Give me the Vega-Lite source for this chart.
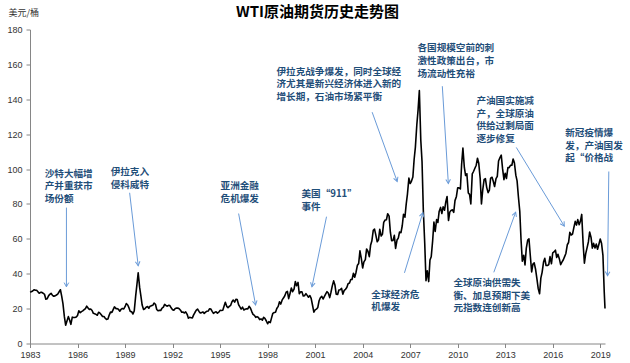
{
  "$schema": "https://vega.github.io/schema/vega-lite/v6.json",
  "width": 575,
  "height": 314,
  "autosize": {"type": "none"},
  "padding": {"left": 30, "top": 29.5, "right": 25, "bottom": 19.5},
  "background": "white",
  "config": {
    "view": {"stroke": null},
    "font": "Liberation Sans",
    "axisX": {"grid": false, "domainColor": "#868686", "tickColor": "#868686", "tickSize": 4, "labelFontSize": 9, "labelColor": "#333333", "labelPadding": 3, "labelFlush": false, "labelOverlap": false},
    "axisY": {"grid": false, "domainColor": "#868686", "tickColor": "#868686", "tickSize": 4, "labelFontSize": 9, "labelColor": "#333333", "labelPadding": 4, "labelOverlap": false, "titleAngle": 0, "titleAlign": "left", "titleBaseline": "middle", "titleX": -22, "titleY": -17, "titleFont": "Noto Sans CJK SC", "titleFontSize": 9, "titleFontWeight": "normal", "titleColor": "#333333"}
  },
  "title": {"text": "WTI原油期货历史走势图", "font": "Noto Sans CJK SC", "fontSize": 15, "fontWeight": "bold", "color": "#000000", "anchor": "middle", "frame": "group", "offset": -11},
  "datasets": {
    "prices": [
      {"t":1983.00,"p":29.5},
      {"t":1983.08,"p":29.7},{"t":1983.17,"p":30.1},{"t":1983.25,"p":30.8},{"t":1983.33,"p":30.6},{"t":1983.42,"p":30.5},{"t":1983.50,"p":29.7},{"t":1983.58,"p":28.8},{"t":1983.67,"p":29.3},{"t":1983.75,"p":29.3},{"t":1983.83,"p":28.8},{"t":1983.92,"p":28.1},{"t":1984.00,"p":25.4},
      {"t":1984.08,"p":25.6},{"t":1984.17,"p":27.3},{"t":1984.25,"p":28.2},{"t":1984.33,"p":28.8},{"t":1984.42,"p":27.6},{"t":1984.50,"p":27.1},{"t":1984.58,"p":27.3},{"t":1984.67,"p":27.8},{"t":1984.75,"p":28.3},{"t":1984.83,"p":29.5},{"t":1984.92,"p":30.8},{"t":1985.00,"p":27.2},
      {"t":1985.08,"p":22.9},{"t":1985.17,"p":15.4},{"t":1985.25,"p":10.5},{"t":1985.33,"p":12.8},{"t":1985.42,"p":15.4},{"t":1985.50,"p":13.5},{"t":1985.58,"p":11.0},{"t":1985.67,"p":15.1},{"t":1985.75,"p":14.9},{"t":1985.83,"p":14.9},{"t":1985.92,"p":15.2},{"t":1986.00,"p":16.1},
      {"t":1986.08,"p":18.7},{"t":1986.17,"p":17.7},{"t":1986.25,"p":18.3},{"t":1986.33,"p":18.7},{"t":1986.42,"p":19.4},{"t":1986.50,"p":20.0},{"t":1986.58,"p":21.4},{"t":1986.67,"p":20.3},{"t":1986.75,"p":19.5},{"t":1986.83,"p":19.8},{"t":1986.92,"p":18.9},{"t":1987.00,"p":17.3},
      {"t":1987.08,"p":17.1},{"t":1987.17,"p":16.7},{"t":1987.25,"p":16.2},{"t":1987.33,"p":17.9},{"t":1987.42,"p":17.4},{"t":1987.50,"p":16.5},{"t":1987.58,"p":15.5},{"t":1987.67,"p":15.5},{"t":1987.75,"p":14.5},{"t":1987.83,"p":13.8},{"t":1987.92,"p":14.0},{"t":1988.00,"p":16.3},
      {"t":1988.08,"p":18.0},{"t":1988.17,"p":17.8},{"t":1988.25,"p":19.4},{"t":1988.33,"p":21.0},{"t":1988.42,"p":20.0},{"t":1988.50,"p":20.0},{"t":1988.58,"p":19.6},{"t":1988.67,"p":18.5},{"t":1988.75,"p":19.6},{"t":1988.83,"p":20.1},{"t":1988.92,"p":19.8},{"t":1989.00,"p":21.1},
      {"t":1989.08,"p":22.9},{"t":1989.17,"p":22.1},{"t":1989.25,"p":20.4},{"t":1989.33,"p":18.4},{"t":1989.42,"p":18.2},{"t":1989.50,"p":16.9},{"t":1989.58,"p":18.6},{"t":1989.67,"p":27.2},{"t":1989.75,"p":33.7},{"t":1989.83,"p":40.5},{"t":1989.92,"p":32.3},{"t":1990.00,"p":27.3},
      {"t":1990.08,"p":22.0},{"t":1990.17,"p":19.5},{"t":1990.25,"p":19.9},{"t":1990.33,"p":20.8},{"t":1990.42,"p":21.2},{"t":1990.50,"p":20.2},{"t":1990.58,"p":21.4},{"t":1990.67,"p":21.7},{"t":1990.75,"p":21.9},{"t":1990.83,"p":23.2},{"t":1990.92,"p":22.5},{"t":1991.00,"p":19.5},
      {"t":1991.08,"p":18.8},{"t":1991.17,"p":19.0},{"t":1991.25,"p":18.9},{"t":1991.33,"p":20.2},{"t":1991.42,"p":20.9},{"t":1991.50,"p":22.4},{"t":1991.58,"p":21.8},{"t":1991.67,"p":21.4},{"t":1991.75,"p":21.9},{"t":1991.83,"p":21.7},{"t":1991.92,"p":20.3},{"t":1992.00,"p":19.4},
      {"t":1992.08,"p":19.1},{"t":1992.17,"p":20.1},{"t":1992.25,"p":20.3},{"t":1992.33,"p":20.3},{"t":1992.42,"p":19.9},{"t":1992.50,"p":19.1},{"t":1992.58,"p":17.9},{"t":1992.67,"p":18.0},{"t":1992.75,"p":17.5},{"t":1992.83,"p":18.1},{"t":1992.92,"p":16.7},{"t":1993.00,"p":14.5},
      {"t":1993.08,"p":15.0},{"t":1993.17,"p":14.8},{"t":1993.25,"p":14.7},{"t":1993.33,"p":16.4},{"t":1993.42,"p":17.9},{"t":1993.50,"p":19.1},{"t":1993.58,"p":19.7},{"t":1993.67,"p":18.4},{"t":1993.75,"p":17.5},{"t":1993.83,"p":17.7},{"t":1993.92,"p":18.1},{"t":1994.00,"p":17.2},
      {"t":1994.08,"p":18.0},{"t":1994.17,"p":18.5},{"t":1994.25,"p":18.6},{"t":1994.33,"p":19.9},{"t":1994.42,"p":19.7},{"t":1994.50,"p":18.4},{"t":1994.58,"p":17.3},{"t":1994.67,"p":17.9},{"t":1994.75,"p":18.2},{"t":1994.83,"p":17.4},{"t":1994.92,"p":18.0},{"t":1995.00,"p":19.0},
      {"t":1995.08,"p":18.9},{"t":1995.17,"p":19.1},{"t":1995.25,"p":21.4},{"t":1995.33,"p":23.6},{"t":1995.42,"p":21.3},{"t":1995.50,"p":20.5},{"t":1995.58,"p":21.3},{"t":1995.67,"p":21.9},{"t":1995.75,"p":23.9},{"t":1995.83,"p":24.9},{"t":1995.92,"p":23.7},{"t":1996.00,"p":25.4},
      {"t":1996.08,"p":25.2},{"t":1996.17,"p":22.2},{"t":1996.25,"p":21.0},{"t":1996.33,"p":19.7},{"t":1996.42,"p":20.8},{"t":1996.50,"p":19.2},{"t":1996.58,"p":19.6},{"t":1996.67,"p":19.9},{"t":1996.75,"p":19.8},{"t":1996.83,"p":21.3},{"t":1996.92,"p":20.2},{"t":1997.00,"p":18.3},
      {"t":1997.08,"p":16.7},{"t":1997.17,"p":16.1},{"t":1997.25,"p":15.0},{"t":1997.33,"p":15.4},{"t":1997.42,"p":14.9},{"t":1997.50,"p":13.7},{"t":1997.58,"p":14.1},{"t":1997.67,"p":13.4},{"t":1997.75,"p":15.0},{"t":1997.83,"p":14.4},{"t":1997.92,"p":12.9},{"t":1998.00,"p":11.3},
      {"t":1998.08,"p":12.5},{"t":1998.17,"p":12.0},{"t":1998.25,"p":14.7},{"t":1998.33,"p":17.3},{"t":1998.42,"p":17.8},{"t":1998.50,"p":17.9},{"t":1998.58,"p":20.1},{"t":1998.67,"p":21.3},{"t":1998.75,"p":23.9},{"t":1998.83,"p":22.6},{"t":1998.92,"p":25.0},{"t":1999.00,"p":26.1},
      {"t":1999.08,"p":27.2},{"t":1999.17,"p":29.4},{"t":1999.25,"p":29.9},{"t":1999.33,"p":25.7},{"t":1999.42,"p":28.8},{"t":1999.50,"p":31.8},{"t":1999.58,"p":29.7},{"t":1999.67,"p":31.2},{"t":1999.75,"p":35.5},{"t":1999.83,"p":33.1},{"t":1999.92,"p":35.0},{"t":2000.00,"p":28.5},
      {"t":2000.08,"p":29.6},{"t":2000.17,"p":29.6},{"t":2000.25,"p":27.2},{"t":2000.33,"p":27.4},{"t":2000.42,"p":28.6},{"t":2000.50,"p":27.6},{"t":2000.58,"p":26.5},{"t":2000.67,"p":27.5},{"t":2000.75,"p":25.9},{"t":2000.83,"p":22.2},{"t":2000.92,"p":18.0},{"t":2001.00,"p":19.3},
      {"t":2001.08,"p":19.7},{"t":2001.17,"p":20.7},{"t":2001.25,"p":24.5},{"t":2001.33,"p":26.2},{"t":2001.42,"p":27.0},{"t":2001.50,"p":25.5},{"t":2001.58,"p":26.9},{"t":2001.67,"p":28.4},{"t":2001.75,"p":29.7},{"t":2001.83,"p":28.9},{"t":2001.92,"p":26.3},{"t":2002.00,"p":29.4},
      {"t":2002.08,"p":32.9},{"t":2002.17,"p":35.9},{"t":2002.25,"p":33.6},{"t":2002.33,"p":28.3},{"t":2002.42,"p":28.1},{"t":2002.50,"p":30.7},{"t":2002.58,"p":30.8},{"t":2002.67,"p":31.6},{"t":2002.75,"p":28.3},{"t":2002.83,"p":30.3},{"t":2002.92,"p":31.1},{"t":2003.00,"p":32.1},
      {"t":2003.08,"p":34.3},{"t":2003.17,"p":34.7},{"t":2003.25,"p":36.7},{"t":2003.33,"p":36.7},{"t":2003.42,"p":40.3},{"t":2003.50,"p":38.0},{"t":2003.58,"p":40.7},{"t":2003.67,"p":44.9},{"t":2003.75,"p":45.9},{"t":2003.83,"p":53.1},{"t":2003.92,"p":48.5},{"t":2004.00,"p":43.3},
      {"t":2004.08,"p":46.8},{"t":2004.17,"p":48.1},{"t":2004.25,"p":54.2},{"t":2004.33,"p":53.0},{"t":2004.42,"p":49.8},{"t":2004.50,"p":56.3},{"t":2004.58,"p":58.7},{"t":2004.67,"p":64.9},{"t":2004.75,"p":65.6},{"t":2004.83,"p":62.3},{"t":2004.92,"p":58.3},{"t":2005.00,"p":59.4},
      {"t":2005.08,"p":65.5},{"t":2005.17,"p":61.6},{"t":2005.25,"p":62.7},{"t":2005.33,"p":69.4},{"t":2005.42,"p":70.8},{"t":2005.50,"p":70.9},{"t":2005.58,"p":74.4},{"t":2005.67,"p":73.0},{"t":2005.75,"p":63.8},{"t":2005.83,"p":58.9},{"t":2005.92,"p":59.1},{"t":2006.00,"p":62.0},
      {"t":2006.08,"p":54.5},{"t":2006.17,"p":59.3},{"t":2006.25,"p":60.4},{"t":2006.33,"p":63.9},{"t":2006.42,"p":63.5},{"t":2006.50,"p":67.5},{"t":2006.58,"p":74.1},{"t":2006.67,"p":72.4},{"t":2006.75,"p":79.9},{"t":2006.83,"p":85.8},{"t":2006.92,"p":94.8},{"t":2007.00,"p":91.7},
      {"t":2007.08,"p":93.0},{"t":2007.17,"p":95.4},{"t":2007.25,"p":105.5},{"t":2007.33,"p":112.6},{"t":2007.42,"p":125.4},{"t":2007.50,"p":133.9},{"t":2007.58,"p":145.0},{"t":2007.67,"p":116.7},{"t":2007.75,"p":104.1},{"t":2007.83,"p":76.6},{"t":2007.92,"p":57.3},{"t":2008.00,"p":36.0},
      {"t":2008.08,"p":41.7},{"t":2008.17,"p":35.5},{"t":2008.25,"p":47.9},{"t":2008.33,"p":49.7},{"t":2008.42,"p":59.0},{"t":2008.50,"p":69.6},{"t":2008.58,"p":64.2},{"t":2008.67,"p":71.1},{"t":2008.75,"p":69.4},{"t":2008.83,"p":75.7},{"t":2008.92,"p":78.0},{"t":2009.00,"p":74.5},
      {"t":2009.08,"p":78.3},{"t":2009.17,"p":76.4},{"t":2009.25,"p":81.2},{"t":2009.33,"p":84.3},{"t":2009.42,"p":70.5},{"t":2009.50,"p":75.3},{"t":2009.58,"p":76.3},{"t":2009.67,"p":76.6},{"t":2009.75,"p":75.2},{"t":2009.83,"p":81.9},{"t":2009.92,"p":84.3},{"t":2010.00,"p":89.2},
      {"t":2010.08,"p":89.2},{"t":2010.17,"p":88.6},{"t":2010.25,"p":102.9},{"t":2010.33,"p":112.0},{"t":2010.42,"p":100.9},{"t":2010.50,"p":96.3},{"t":2010.58,"p":97.3},{"t":2010.67,"p":86.3},{"t":2010.75,"p":85.5},{"t":2010.83,"p":80.0},{"t":2010.92,"p":97.2},{"t":2011.00,"p":98.6},
      {"t":2011.08,"p":100.3},{"t":2011.17,"p":102.2},{"t":2011.25,"p":106.2},{"t":2011.33,"p":103.3},{"t":2011.42,"p":94.7},{"t":2011.50,"p":80.0},{"t":2011.58,"p":87.9},{"t":2011.67,"p":94.1},{"t":2011.75,"p":94.5},{"t":2011.83,"p":89.5},{"t":2011.92,"p":86.5},{"t":2012.00,"p":87.9},
      {"t":2012.08,"p":94.8},{"t":2012.17,"p":95.3},{"t":2012.25,"p":92.9},{"t":2012.33,"p":90.0},{"t":2012.42,"p":94.5},{"t":2012.50,"p":95.8},{"t":2012.58,"p":104.6},{"t":2012.67,"p":106.6},{"t":2012.75,"p":108.0},{"t":2012.83,"p":100.5},{"t":2012.92,"p":93.9},{"t":2013.00,"p":97.6},
      {"t":2013.08,"p":94.6},{"t":2013.17,"p":100.8},{"t":2013.25,"p":100.8},{"t":2013.33,"p":102.1},{"t":2013.42,"p":102.2},{"t":2013.50,"p":105.8},{"t":2013.58,"p":103.6},{"t":2013.67,"p":96.5},{"t":2013.75,"p":93.2},{"t":2013.83,"p":84.4},{"t":2013.92,"p":75.8},{"t":2014.00,"p":59.3},
      {"t":2014.08,"p":47.2},{"t":2014.17,"p":50.6},{"t":2014.25,"p":45.0},{"t":2014.33,"p":54.5},{"t":2014.42,"p":59.3},{"t":2014.50,"p":60.0},{"t":2014.58,"p":50.9},{"t":2014.67,"p":41.0},{"t":2014.75,"p":45.5},{"t":2014.83,"p":46.2},{"t":2014.92,"p":42.4},{"t":2015.00,"p":37.2},
      {"t":2015.08,"p":31.7},{"t":2015.17,"p":28.5},{"t":2015.25,"p":37.5},{"t":2015.33,"p":40.8},{"t":2015.42,"p":46.7},{"t":2015.50,"p":48.8},{"t":2015.58,"p":44.7},{"t":2015.67,"p":44.7},{"t":2015.75,"p":45.2},{"t":2015.83,"p":49.8},{"t":2015.92,"p":45.7},{"t":2016.00,"p":52.0},
      {"t":2016.08,"p":52.5},{"t":2016.17,"p":53.5},{"t":2016.25,"p":49.3},{"t":2016.33,"p":51.1},{"t":2016.42,"p":48.5},{"t":2016.50,"p":45.2},{"t":2016.58,"p":46.6},{"t":2016.67,"p":48.0},{"t":2016.75,"p":49.8},{"t":2016.83,"p":51.6},{"t":2016.92,"p":56.6},{"t":2017.00,"p":57.9},
      {"t":2017.08,"p":63.7},{"t":2017.17,"p":62.2},{"t":2017.25,"p":62.7},{"t":2017.33,"p":66.3},{"t":2017.42,"p":70.0},{"t":2017.50,"p":67.9},{"t":2017.58,"p":71.0},{"t":2017.67,"p":68.1},{"t":2017.75,"p":70.2},{"t":2017.83,"p":74.0},{"t":2017.92,"p":57.0},{"t":2018.00,"p":46.0},
      {"t":2018.08,"p":51.4},{"t":2018.17,"p":55.0},{"t":2018.25,"p":58.2},{"t":2018.33,"p":63.9},{"t":2018.42,"p":60.8},{"t":2018.50,"p":54.7},{"t":2018.58,"p":57.4},{"t":2018.67,"p":54.8},{"t":2018.75,"p":57.0},{"t":2018.83,"p":54.0},{"t":2018.92,"p":57.0},{"t":2019.00,"p":59.9},
      {"t":2019.08,"p":57.5},{"t":2019.17,"p":50.5},{"t":2019.25,"p":30.0},{"t":2019.30,"p":20.1}
    ],
    "notes": [
      {"t":1983.93,"p":100.1,"txt":"沙特大幅增\n产并重获市\n场份额"},
      {"t":1988.09,"p":101.2,"txt":"伊拉克入\n侵科威特"},
      {"t":1995.03,"p":93.2,"txt":"亚洲金融\n危机爆发"},
      {"t":2000.14,"p":88.3,"txt":"美国“911”\n事件"},
      {"t":1998.56,"p":158.6,"txt":"伊拉克战争爆发，同时全球经\n济尤其是新兴经济体进入新的\n增长期，石油市场紧平衡"},
      {"t":2007.46,"p":172.0,"txt":"各国规模空前的刺\n激性政策出台，市\n场流动性充裕"},
      {"t":2011.18,"p":141.9,"txt":"产油国实施减\n产，全球原油\n供给过剩局面\n逐步修复"},
      {"t":2016.79,"p":123.5,"txt":"新冠疫情爆\n发，产油国发\n起“价格战"},
      {"t":2004.55,"p":30.8,"txt":"全球经济危\n机爆发"},
      {"t":2009.73,"p":37.5,"txt":"全球原油供需失\n衡、加息预期下美\n元指数连创新高"}
    ],
    "arrows": [
      {"t":1985.30,"p":77.9,"t2":1985.30,"p2":32.5,"ang":180},
      {"t":1989.29,"p":86.4,"t2":1989.83,"p2":44.6,"ang":173},
      {"t":1996.17,"p":74.5,"t2":1997.24,"p2":22.1,"ang":169},
      {"t":2001.72,"p":72.7,"t2":2000.80,"p2":32.5,"ang":192},
      {"t":2004.60,"p":132.6,"t2":2006.18,"p2":92.9,"ang":160},
      {"t":2009.03,"p":147.5,"t2":2009.41,"p2":91.7,"ang":177},
      {"t":2013.70,"p":112.4,"t2":2016.73,"p2":67.3,"ang":149},
      {"t":2019.54,"p":98.6,"t2":2019.46,"p2":38.8,"ang":181},
      {"t":2006.64,"p":40.5,"t2":2007.80,"p2":75.0,"ang":16},
      {"t":2012.28,"p":40.8,"t2":2013.66,"p2":75.3,"ang":20}
    ]
  },
  "layer": [
    {
      "data": {"name": "prices"},
      "mark": {"type": "line", "color": "#000000", "strokeWidth": 1.6, "strokeJoin": "round"},
      "encoding": {
        "x": {"field": "t", "type": "quantitative", "title": null, "scale": {"domain": [1983, 2019.3], "nice": false, "zero": false},
              "axis": {"values": [1983,1986,1989,1992,1995,1998,2001,2004,2007,2010,2013,2016,2019], "format": "d", "labelOverlap": false}},
        "y": {"field": "p", "type": "quantitative", "title": "美元/桶", "scale": {"domain": [0, 180], "nice": false},
              "axis": {"values": [0,20,40,60,80,100,120,140,160,180], "labelOverlap": false, "tickCount": 10}}
      }
    },
    {
      "data": {"name": "arrows"},
      "mark": {"type": "rule", "color": "#6A9BD8", "strokeWidth": 1},
      "encoding": {
        "x": {"field": "t", "type": "quantitative", "title": null, "scale": {"domain": [1983, 2019.3], "nice": false, "zero": false},
              "axis": {"values": [1983,1986,1989,1992,1995,1998,2001,2004,2007,2010,2013,2016,2019], "format": "d", "labelOverlap": false}},
        "y": {"field": "p", "type": "quantitative", "title": "美元/桶", "scale": {"domain": [0, 180], "nice": false},
              "axis": {"values": [0,20,40,60,80,100,120,140,160,180], "labelOverlap": false, "tickCount": 10}},
        "x2": {"field": "t2"},
        "y2": {"field": "p2"}
      }
    },
    {
      "data": {"name": "arrows"},
      "mark": {"type": "point", "shape": "M-0.55,1L0,0L0.55,1", "filled": false, "color": "#6A9BD8", "strokeWidth": 1, "size": 70, "opacity": 1},
      "encoding": {
        "x": {"field": "t2", "type": "quantitative", "title": null, "scale": {"domain": [1983, 2019.3], "nice": false, "zero": false},
              "axis": {"values": [1983,1986,1989,1992,1995,1998,2001,2004,2007,2010,2013,2016,2019], "format": "d", "labelOverlap": false}},
        "y": {"field": "p2", "type": "quantitative", "title": "美元/桶", "scale": {"domain": [0, 180], "nice": false},
              "axis": {"values": [0,20,40,60,80,100,120,140,160,180], "labelOverlap": false, "tickCount": 10}},
        "angle": {"field": "ang", "type": "quantitative", "scale": null}
      }
    },
    {
      "data": {"name": "notes"},
      "mark": {"type": "text", "align": "left", "baseline": "top", "font": "Noto Sans CJK SC", "fontSize": 9.6, "fontWeight": "bold", "color": "#1F4E79", "lineBreak": "\n", "lineHeight": 12.6},
      "encoding": {
        "x": {"field": "t", "type": "quantitative", "title": null, "scale": {"domain": [1983, 2019.3], "nice": false, "zero": false},
              "axis": {"values": [1983,1986,1989,1992,1995,1998,2001,2004,2007,2010,2013,2016,2019], "format": "d", "labelOverlap": false}},
        "y": {"field": "p", "type": "quantitative", "title": "美元/桶", "scale": {"domain": [0, 180], "nice": false},
              "axis": {"values": [0,20,40,60,80,100,120,140,160,180], "labelOverlap": false, "tickCount": 10}},
        "text": {"field": "txt", "type": "nominal"}
      }
    }
  ]
}
